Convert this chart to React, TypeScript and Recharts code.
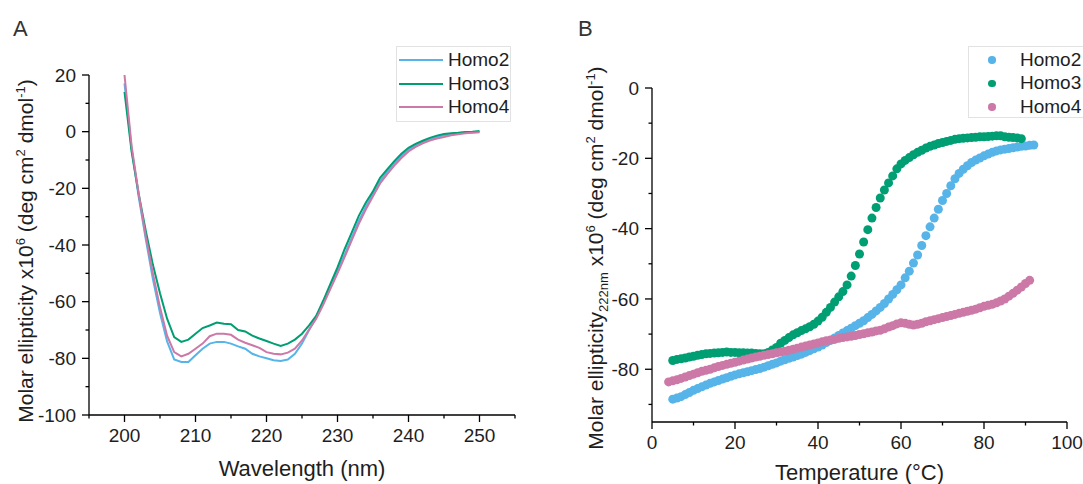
import React from 'react';
import { LineChart, Line, XAxis, YAxis, ScatterChart, Scatter, Legend } from 'recharts';

const FONT = '"Liberation Sans", Arial, Helvetica, sans-serif';
const TEXT = '#1e1e1e';

// ---------- shared series info ----------
const seriesNames = ['Homo2', 'Homo3', 'Homo4'];
const seriesColors = ['#56B4E9', '#009E73', '#CC79A7'];

// ---------- Panel A: CD spectra ----------
const wavelengths = [
  200, 201, 202, 203, 204, 205, 206, 207, 208, 209, 210, 211, 212, 213, 214, 215, 216, 217, 218, 219,
  220, 221, 222, 223, 224, 225, 226, 227, 228, 229, 230, 231, 232, 233, 234, 235, 236, 237, 238, 239,
  240, 241, 242, 243, 244, 245, 246, 247, 248, 249, 250,
];
const cdHomo2 = [
  17, -6, -23, -38, -52, -64, -74, -80.4, -81.3, -81.3, -78.9, -76.6, -74.8, -74.2, -74.2, -74.8, -75.8, -76.6, -78.4, -79.3,
  -80, -80.7, -80.9, -80.4, -78.4, -74.8, -70, -65.5, -60.2, -54.3, -49, -43.5, -37.5, -31.5, -26.5, -22, -17.5, -14.2, -11.2, -8.6,
  -6.4, -4.9, -3.7, -2.7, -1.9, -1.3, -0.9, -0.6, -0.3, -0.2, -0.1,
];
const cdHomo3 = [
  14, -7, -22, -35, -47, -57, -66, -72.5, -74.2, -73.4, -71.3, -69.3, -68.4, -67.4, -67.8, -68, -70, -70.5, -72, -73,
  -73.9, -74.8, -75.6, -74.8, -73.4, -71.3, -68.4, -65, -59.6, -53.7, -47.9, -41.5, -35.6, -29.7, -25, -21, -16.3, -13.3, -10.4, -7.8,
  -5.7, -4.3, -3.2, -2.2, -1.4, -0.8, -0.6, -0.4, -0.1, 0, 0.2,
];
const cdHomo4 = [
  20, -5, -22, -37, -50, -62, -72, -77.8, -79.3, -78.4, -76.6, -74.8, -72.2, -71.3, -71.3, -71.7, -73.4, -74.5, -75.4, -76.3,
  -77.8, -78.4, -78.6, -78, -76.6, -73.7, -69.8, -66, -61, -55.5, -50, -44.3, -38.4, -32.5, -27.4, -22.8, -18.3, -15, -12, -9.3,
  -7, -5.4, -4.1, -3.1, -2.4, -1.9, -1.3, -0.9, -0.6, -0.4, -0.2,
];
const xTicksA = [195, 200, 205, 210, 215, 220, 225, 230, 235, 240, 245, 250, 255];
const xMajorA = [200, 210, 220, 230, 240, 250];
const yTicksA = [20, 10, 0, -10, -20, -30, -40, -50, -60, -70, -80, -90, -100];
const yMajorA = [20, 0, -20, -40, -60, -80, -100];

// ---------- Panel B: thermal melts (222 nm) ----------
const tempStartHomo2 = 5;
const meltHomo2 = [
  -88.5, -88.2, -87.8, -87.2, -86.6, -86.0, -85.5, -85.0, -84.5, -84.0, -83.6, -83.2, -82.8, -82.4, -82.0,
  -81.6, -81.3, -81.0, -80.7, -80.4, -80.1, -79.8, -79.4, -79.0, -78.6, -78.2, -77.7, -77.3, -76.9, -76.5,
  -76.1, -75.7, -75.2, -74.7, -74.2, -73.7, -73.1, -72.4, -71.8, -71.1, -70.4, -69.7, -69.0, -68.3, -67.6,
  -66.9, -66.2, -65.3, -64.4, -63.4, -62.4, -61.3, -60.0, -58.7, -57.4, -56.0, -54.0, -52.1, -49.8, -47.5,
  -44.8, -42.0, -39.5, -37.0, -34.5, -32.0, -30.0, -27.8, -25.8, -24.3, -23.1, -22.1, -21.2, -20.5, -19.9,
  -19.3, -18.8, -18.3, -17.9, -17.6, -17.4, -17.2, -17.0, -16.8, -16.6, -16.5, -16.3, -16.2,
];
const tempStartHomo3 = 5;
const meltHomo3 = [
  -77.5, -77.2, -77.0, -76.8, -76.5, -76.3, -76.0, -75.8, -75.6, -75.5, -75.4, -75.3, -75.2, -75.1, -75.2,
  -75.2, -75.3, -75.3, -75.4, -75.4, -75.5, -75.6, -75.6, -75.2, -74.5, -73.8, -72.6, -71.8, -71.0, -70.2,
  -69.6, -69.0, -68.5, -67.9, -67.2, -66.3, -65.2, -63.8, -62.4, -60.9, -59.4, -57.9, -56.0, -53.5, -50.5,
  -47.2, -43.8, -40.3, -37.0, -34.0, -31.3, -29.0, -27.0, -25.0, -23.0, -21.6, -20.6, -19.8, -19.0, -18.3,
  -17.7, -17.1, -16.6, -16.2, -15.8, -15.5, -15.2, -14.9, -14.6, -14.4, -14.3, -14.2, -14.1, -14.0, -13.9,
  -13.9, -13.8, -13.7, -13.6, -13.6, -13.9, -14.0, -14.1, -14.2, -14.4,
];
const tempStartHomo4 = 4;
const meltHomo4 = [
  -83.6, -83.3, -83.0, -82.6, -82.2, -81.8, -81.4, -81.0, -80.6, -80.3, -80.0, -79.6, -79.2, -78.9, -78.6,
  -78.3, -78.0, -77.7, -77.4, -77.1, -76.8, -76.5, -76.3, -76.0, -75.8, -75.6, -75.3, -75.1, -74.9, -74.6,
  -74.3, -74.0, -73.7, -73.4, -73.1, -72.8, -72.5, -72.2, -71.9, -71.7, -71.5, -71.2, -71.0, -70.8, -70.6,
  -70.4, -70.1, -69.9, -69.6, -69.4, -69.1, -68.9, -68.5, -68.0, -67.6, -67.1, -66.8, -66.9, -67.2, -67.4,
  -67.2, -66.9, -66.5, -66.2, -65.9, -65.6, -65.3, -65.0, -64.7, -64.4, -64.1, -63.8, -63.5, -63.2, -62.9,
  -62.5, -62.1, -61.8, -61.5, -61.1, -60.6, -60.0, -59.2, -58.4, -57.5, -56.6, -55.6, -54.7,
];
const xTicksB = [0, 10, 20, 30, 40, 50, 60, 70, 80, 90, 100];
const xMajorB = [0, 20, 40, 60, 80, 100];
const yTicksB = [0, -10, -20, -30, -40, -50, -60, -70, -80, -90];
const yMajorB = [0, -20, -40, -60, -80];

// ---------- derived tables ----------
const spectraRows = wavelengths.map((wl, i) => ({
  wl,
  Homo2: cdHomo2[i],
  Homo3: cdHomo3[i],
  Homo4: cdHomo4[i],
}));
const toPoints = (start: number, vals: number[]) => vals.map((v, i) => ({ t: start + i, v }));
const meltSets = [
  toPoints(tempStartHomo2, meltHomo2),
  toPoints(tempStartHomo3, meltHomo3),
  toPoints(tempStartHomo4, meltHomo4),
];

// ---------- ticks ----------
const TICK_SIZE = 7;
const TICK_MARGIN = 6;
const TICK_FONT = 19;
const AXIS_W = 1.3;

const makeYTick = (majors: number[]) => (props: any) => {
  const { x, y, payload } = props;
  const v = payload.value;
  const major = majors.indexOf(v) >= 0;
  const ax = x + TICK_SIZE + TICK_MARGIN;
  return (
    <g>
      <line x1={ax} x2={ax - (major ? TICK_SIZE : 3.5)} y1={y} y2={y} stroke="#000" strokeWidth={AXIS_W} />
      {major && (
        <text x={x} y={y} dy="0.355em" textAnchor="end" fontSize={TICK_FONT} fill={TEXT} fontFamily={FONT}>
          {v}
        </text>
      )}
    </g>
  );
};
const makeXTick = (majors: number[]) => (props: any) => {
  const { x, y, payload } = props;
  const v = payload.value;
  const major = majors.indexOf(v) >= 0;
  const ay = y - TICK_SIZE - TICK_MARGIN;
  return (
    <g>
      <line x1={x} x2={x} y1={ay} y2={ay + (major ? TICK_SIZE : 3.5)} stroke="#000" strokeWidth={AXIS_W} />
      {major && (
        <text x={x} y={y} dy="0.72em" textAnchor="middle" fontSize={TICK_FONT} fill={TEXT} fontFamily={FONT}>
          {v}
        </text>
      )}
    </g>
  );
};

// ---------- titles ----------
const TITLE_FONT = 22;
const YTITLE_FONT = 21;
const SUP = 13;

const YTitleA = (cx: number, cy: number) => (
  <text x={cx} y={cy} transform={`rotate(-90 ${cx} ${cy})`} textAnchor="middle" fontSize={YTITLE_FONT} fill={TEXT} fontFamily={FONT}>
    <tspan>{'Molar ellipticity x10'}</tspan>
    <tspan dy={-8} fontSize={SUP}>6</tspan>
    <tspan dy={8}>{' (deg cm'}</tspan>
    <tspan dy={-8} fontSize={SUP}>2</tspan>
    <tspan dy={8}>{' dmol'}</tspan>
    <tspan dy={-8} fontSize={SUP}>-1</tspan>
    <tspan dy={8}>)</tspan>
  </text>
);
const YTitleB = (cx: number, cy: number) => (
  <text x={cx} y={cy} transform={`rotate(-90 ${cx} ${cy})`} textAnchor="middle" fontSize={YTITLE_FONT} fill={TEXT} fontFamily={FONT}>
    <tspan>{'Molar ellipticity'}</tspan>
    <tspan dy={5} fontSize={SUP}>222nm</tspan>
    <tspan dy={-5}>{' x10'}</tspan>
    <tspan dy={-8} fontSize={SUP}>6</tspan>
    <tspan dy={8}>{' (deg cm'}</tspan>
    <tspan dy={-8} fontSize={SUP}>2</tspan>
    <tspan dy={8}>{' dmol'}</tspan>
    <tspan dy={-8} fontSize={SUP}>-1</tspan>
    <tspan dy={8}>)</tspan>
  </text>
);

// ---------- layout ----------
const A = { w: 540, h: 484, top: 75, right: 25, bottom: 39, yAxisW: 89, xAxisH: 30 };
const B = { left: 540, w: 543, h: 484, top: 88, right: 16, bottom: 32, yAxisW: 112, xAxisH: 30 };

const LegendA = () => (
  <div style={{ boxSizing: 'border-box', width: 115, height: 76, border: '1px solid #e2e2e2', background: '#fff', paddingTop: 1 }}>
    {seriesNames.map((n, i) => (
      <div key={n} style={{ height: 23.8, display: 'flex', alignItems: 'center' }}>
        <div style={{ marginLeft: 2, width: 44, height: 2, background: seriesColors[i] }} />
        <span style={{ marginLeft: 5, fontSize: 19, color: TEXT, fontFamily: FONT, lineHeight: '20px' }}>{n}</span>
      </div>
    ))}
  </div>
);
const LegendB = () => (
  <div style={{ boxSizing: 'border-box', width: 115, height: 72, border: '1px solid #e2e2e2', borderRight: 'none', background: '#fff', paddingTop: 1 }}>
    {seriesNames.map((n, i) => (
      <div key={n} style={{ height: 23.5, display: 'flex', alignItems: 'center' }}>
        <div style={{ marginLeft: 19, width: 7.5, height: 7.5, borderRadius: '50%', background: seriesColors[i] }} />
        <span style={{ marginLeft: 24.5, fontSize: 19, color: TEXT, fontFamily: FONT, lineHeight: '20px' }}>{n}</span>
      </div>
    ))}
  </div>
);

const Dot = (color: string) => (props: any) => {
  const { cx, cy } = props;
  if (cx == null || cy == null) return <g />;
  return <circle cx={cx} cy={cy} r={4.5} fill={color} />;
};

export default function App() {
  const plotA = { left: A.yAxisW, right: A.w - A.right, top: A.top, bottom: A.h - A.bottom - A.xAxisH };
  const plotB = { left: B.yAxisW, right: B.w - B.right, top: B.top, bottom: B.h - B.bottom - B.xAxisH };
  return (
    <div style={{ position: 'absolute', left: 0, top: 0, width: 1083, height: 484, background: '#fff', fontFamily: FONT, overflow: 'hidden' }}>
      <div style={{ position: 'absolute', left: 0, top: 0 }}>
        <LineChart width={A.w} height={A.h} data={spectraRows} margin={{ top: A.top, right: A.right, bottom: A.bottom, left: 0 }}>
          <XAxis
            dataKey="wl"
            type="number"
            domain={[195, 255]}
            ticks={xTicksA}
            interval={0}
            allowDataOverflow
            height={A.xAxisH}
            tickSize={TICK_SIZE}
            tickMargin={TICK_MARGIN}
            tickLine={false}
            axisLine={{ stroke: '#000', strokeWidth: AXIS_W }}
            tick={makeXTick(xMajorA)}
            label={() => (
              <g>
                <text x={(plotA.left + plotA.right) / 2} y={plotA.bottom + 61} textAnchor="middle" fontSize={TITLE_FONT} fill={TEXT} fontFamily={FONT}>
                  Wavelength (nm)
                </text>
                <text x={13} y={36} fontSize={22} fill="#333" fontFamily={FONT}>A</text>
              </g>
            )}
          />
          <YAxis
            type="number"
            domain={[-100, 20]}
            ticks={yTicksA}
            interval={0}
            allowDataOverflow
            width={A.yAxisW}
            tickSize={TICK_SIZE}
            tickMargin={TICK_MARGIN}
            tickLine={false}
            axisLine={{ stroke: '#000', strokeWidth: AXIS_W }}
            tick={makeYTick(yMajorA)}
            label={() => YTitleA(33, (plotA.top + plotA.bottom) / 2 + 6)}
          />
          {seriesNames.map((n, i) => (
            <Line key={n} dataKey={n} name={n} type="linear" stroke={seriesColors[i]} strokeWidth={2} dot={false} isAnimationActive={false} />
          ))}
          <Legend
            layout="vertical"
            align="center"
            verticalAlign="middle"
            content={() => <LegendA />}
            wrapperStyle={{ left: 396, top: 46, width: 115, height: 76 }}
          />
        </LineChart>
      </div>
      <div style={{ position: 'absolute', left: B.left, top: 0 }}>
        <ScatterChart width={B.w} height={B.h} margin={{ top: B.top, right: B.right, bottom: B.bottom, left: 0 }}>
          <XAxis
            dataKey="t"
            type="number"
            domain={[0, 100]}
            ticks={xTicksB}
            interval={0}
            allowDataOverflow
            height={B.xAxisH}
            tickSize={TICK_SIZE}
            tickMargin={TICK_MARGIN}
            tickLine={false}
            axisLine={{ stroke: '#000', strokeWidth: AXIS_W }}
            tick={makeXTick(xMajorB)}
            label={() => (
              <g>
                <text x={(plotB.left + plotB.right) / 2} y={plotB.bottom + 58} textAnchor="middle" fontSize={TITLE_FONT} fill={TEXT} fontFamily={FONT}>
                  Temperature (°C)
                </text>
                <text x={38} y={36} fontSize={22} fill="#333" fontFamily={FONT}>B</text>
              </g>
            )}
          />
          <YAxis
            dataKey="v"
            type="number"
            domain={[-95, 0]}
            ticks={yTicksB}
            interval={0}
            allowDataOverflow
            width={B.yAxisW}
            tickSize={TICK_SIZE}
            tickMargin={TICK_MARGIN}
            tickLine={false}
            axisLine={{ stroke: '#000', strokeWidth: AXIS_W }}
            tick={makeYTick(yMajorB)}
            label={() => YTitleB(63, (plotB.top + plotB.bottom) / 2 + 3)}
          />
          {seriesNames.map((n, i) => (
            <Scatter key={n} name={n} data={meltSets[i]} fill={seriesColors[i]} shape={Dot(seriesColors[i])} isAnimationActive={false} />
          ))}
          <Legend
            layout="vertical"
            align="center"
            verticalAlign="middle"
            content={() => <LegendB />}
            wrapperStyle={{ left: 428, top: 46, width: 115, height: 72 }}
          />
        </ScatterChart>
      </div>
    </div>
  );
}
